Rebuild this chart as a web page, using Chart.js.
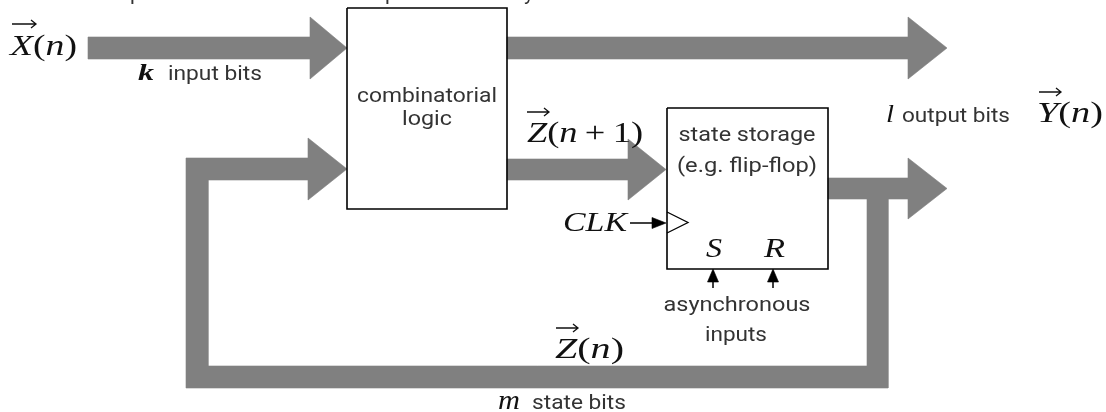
<!DOCTYPE html>
<html>
<head>
<meta charset="utf-8">
<script src="https://cdn.jsdelivr.net/npm/chart.js@4.4.1/dist/chart.umd.min.js"></script>
<style>
html,body{margin:0;padding:0;background:#ffffff;overflow:hidden}
#wrap{width:1106px;height:412px;position:relative}
</style>
</head>
<body>
<div id="wrap"><canvas id="c"></canvas></div>
<script>
// ---- diagram data (units: x 0..1106, y 0..412, y downward) ----
const inputBus      = [[88,37],[310,37],[310,17],[347,48],[310,79],[310,59],[88,59],[88,37]];
const outputBus     = [[507,37],[908,37],[908,17],[947,48],[908,79],[908,59],[507,59],[507,37]];
const nextStateBus  = [[507,159],[628,159],[628,139],[666,169.5],[628,200],[628,180],[507,180],[507,159]];
const feedbackBus   = [[186,158],[308,158],[308,138],[347,169],[308,200],[308,180],[208,180],[208,366],
                       [867,366],[867,199],[828,199],[828,178],[908,178],[908,158],[947,188.5],[908,219],
                       [908,199],[888,199],[888,388],[186,388],[186,158]];
const combBox       = [[347,8],[507,8],[507,209],[347,209],[347,8]];
const stateBox      = [[667,108],[828,108],[828,269],[667,269],[667,108]];
const clockMark     = [[667,212],[688,222.5],[667,233]];
const clkWire       = [[630,223],[655,223]];
const clkHead       = [[652,217.5],[666,223],[652,228.5],[652,217.5]];
const setWire       = [[713,272],[713,288]];
const setHead       = [[707.5,282],[713,269],[718.5,282],[707.5,282]];
const resetWire     = [[773,272],[773,288]];
const resetHead     = [[767.5,282],[773,269],[778.5,282],[767.5,282]];

// text labels
const sansLabels  = ['combinatorial','logic','state storage','(e.g. flip-flop)','input bits','output bits',
                     'asynchronous','inputs','state bits','p','p','y'];
const mathLabels  = ['X(n)','Z(n + 1)','Y(n)','Z(n)','CLK','S','R','k','l','m'];

// ---- layout (positions / sizes) ----
const sansLayout = [ // [x, baseline, align, size, width]
  [427,102,'center',21,140],[427,125,'center',21,50],[747,141,'center',21,137],[747,172,'center',21,140],
  [168,80,'left',21,94],[902,122,'left',21,108],[737,311,'center',21,147],[736,341,'center',21,62],
  [532,409,'left',21,94],[130,0,'left',21,null],[385,0,'left',21,null],[524,0,'left',21,null]
];
const mathLayout = [ // [x, baseline, size, width, vectorArrow?, style]
  [10,55,30,67,[12,36,24],''],[527,142,30,116,[527,549,112],''],[1037,122,30,66,[1039,1061,92],''],
  [555,358,30,69,[556,578,328],''],[563,231,28,64,null,''],[706,257,27,16,null,''],[764,257,27,21,null,''],
  [138,80,24,16,null,'bold'],[886,122,26,8,null,''],[498,409,28,22,null,'']
];

const GREY = '#808080';
function poly(pts, order){
  return {type:'line', data: pts.map(p=>({x:p[0],y:p[1]})), showLine:true, fill:'shape',
    backgroundColor: GREY, borderColor: GREY, borderWidth: 0.6, pointRadius: 0, tension: 0, order};
}
function blackPoly(pts, order){
  return {type:'line', data: pts.map(p=>({x:p[0],y:p[1]})), showLine:true, fill:'shape',
    backgroundColor:'#000', borderColor:'#000', borderWidth: 0.6, pointRadius: 0, tension: 0, order};
}
function stroke(pts, width, order){
  return {type:'line', data: pts.map(p=>({x:p[0],y:p[1]})), showLine:true, fill:false,
    borderColor:'#000', borderWidth: width, pointRadius: 0, tension: 0, order,
    borderJoinStyle:'miter', borderCapStyle:'butt'};
}

const textPlugin = {
  id:'diagramText',
  afterDatasetsDraw(chart){
    const ctx = chart.ctx, xs = chart.scales.x, ys = chart.scales.y;
    const X = v => xs.getPixelForValue(v), Y = v => ys.getPixelForValue(v);
    ctx.save();
    ctx.textBaseline = 'alphabetic';
    // sans labels
    sansLabels.forEach((t,i)=>{
      const [x,y,align,size,width] = sansLayout[i];
      ctx.font = size+'px Roboto, "Liberation Sans", sans-serif';
      ctx.fillStyle = '#333333';
      const w = ctx.measureText(t).width;
      const pw = width ? (X(x+width)-X(x)) : w;
      const s = pw / w;
      const left = align==='center' ? X(x) - pw/2 : X(x);
      ctx.save(); ctx.translate(left, Y(y)); ctx.scale(s,1); ctx.fillText(t,0,0); ctx.restore();
    });
    // math labels: letters italic, everything else upright
    mathLabels.forEach((t,i)=>{
      const [x,y,size,width,vec,style] = mathLayout[i];
      const fam = '"Liberation Serif", "DejaVu Serif", serif';
      const segs = [...t].map(ch=>{
        const isL = /[A-Za-z]/.test(ch);
        return {ch, font: (isL ? 'italic ' : '') + (style==='bold'?'bold ':'') + size + 'px ' + fam};
      });
      let total = 0;
      segs.forEach(sg=>{ ctx.font = sg.font; sg.w = ctx.measureText(sg.ch===' '?'\u2009':sg.ch).width; total += sg.w; });
      const pw = X(x+width)-X(x);
      const s = pw/total;
      ctx.save(); ctx.translate(X(x), Y(y)); ctx.scale(s,1);
      ctx.fillStyle = '#111111';
      let cx = 0;
      segs.forEach(sg=>{ ctx.font = sg.font; if(sg.ch!==' ') ctx.fillText(sg.ch,cx,0); cx += sg.w; });
      ctx.restore();
      if (vec){
        const [a,b,vy] = vec;
        ctx.strokeStyle = '#111111'; ctx.lineWidth = 1.3;
        ctx.beginPath(); ctx.moveTo(X(a),Y(vy)); ctx.lineTo(X(b),Y(vy));
        ctx.moveTo(X(b)-5,Y(vy)-4); ctx.lineTo(X(b),Y(vy)); ctx.lineTo(X(b)-5,Y(vy)+4);
        ctx.stroke();
      }
    });
    ctx.restore();
  }
};

new Chart(document.getElementById('c'), {
  type:'line',
  data:{ datasets:[
    stroke(combBox,1.6,1), stroke(stateBox,1.6,1), stroke(clockMark,1.3,1),
    stroke(clkWire,1.5,1), blackPoly(clkHead,1),
    stroke(setWire,1.5,1), blackPoly(setHead,1), stroke(resetWire,1.5,1), blackPoly(resetHead,1),
    poly(inputBus,2), poly(outputBus,2), poly(nextStateBus,2), poly(feedbackBus,2)
  ]},
  options:{
    responsive:true, maintainAspectRatio:false, animation:false,
    layout:{padding:0},
    plugins:{legend:{display:false}, tooltip:{enabled:false}},
    events:[],
    scales:{
      x:{type:'linear', min:0, max:1106, display:false},
      y:{type:'linear', min:0, max:412, reverse:true, display:false}
    }
  },
  plugins:[textPlugin]
});
</script>
</body>
</html>
